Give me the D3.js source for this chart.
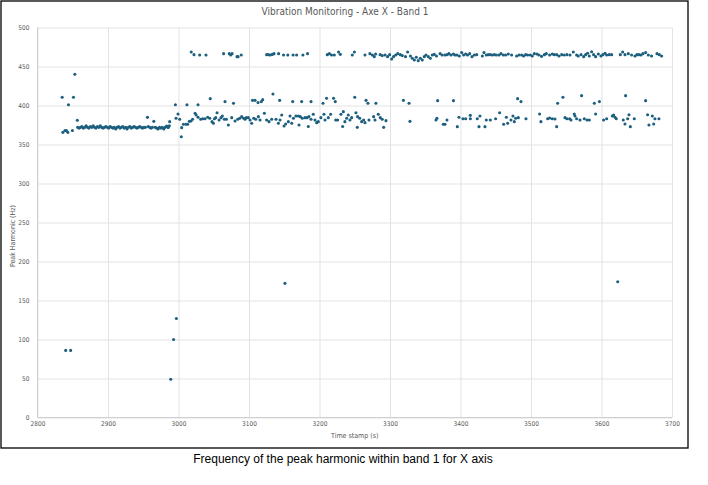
<!DOCTYPE html>
<html>
<head>
<meta charset="utf-8">
<script src="https://cdn.jsdelivr.net/npm/d3@7/dist/d3.min.js"></script>
<style>
  html, body { margin: 0; padding: 0; background: #ffffff; }
  svg { display: block; }
  svg text { -webkit-font-smoothing: antialiased; }
</style>
</head>
<body>
<svg id="chart" width="708" height="485"></svg>
<script>
// ---------- DATA (time stamp [s], peak harmonic [Hz]) ----------
const chartTitle = "Vibration Monitoring - Axe X - Band 1";
const xAxisTitle = "Time stamp (s)";
const yAxisTitle = "Peak Harmonic (Hz)";
const caption = "Frequency of the peak harmonic within band 1 for X axis";
const xTicks = [2800, 2900, 3000, 3100, 3200, 3300, 3400, 3500, 3600, 3700];
const yTicks = [0, 50, 100, 150, 200, 250, 300, 350, 400, 450, 500];

const outlierPoints = [
  [2840, 86], [2847, 86], [2989, 49], [2993, 100], [2997, 127],
  [3151, 172], [3623, 174]
];

const earlyPoints = [
  [2835, 410.5], [2844, 401], [2851, 410.5], [2853, 440], [2856.5, 381],
  [2836, 365.6], [2839, 368], [2841, 368], [2843, 365.6], [2849.5, 368],
  [2956, 384.8], [2965, 379.7], [3004, 360]
];

const flatSegment = [
  [2857, 372], [2859, 371], [2861, 372], [2863, 373], [2865, 371], [2867, 372],
  [2869, 374], [2871, 372], [2873, 371], [2875, 373], [2877, 372], [2879, 374],
  [2881, 372], [2883, 371], [2885, 373], [2887, 372], [2889, 374], [2891, 372],
  [2893, 371], [2895, 372], [2897, 373], [2899, 372], [2901, 371], [2903, 373],
  [2905, 372], [2907, 371], [2909, 372], [2911, 370], [2913, 372], [2915, 373],
  [2917, 371], [2919, 372], [2921, 373], [2923, 371], [2925, 372], [2927, 370],
  [2929, 372], [2931, 373], [2933, 371], [2935, 372], [2937, 373], [2939, 372],
  [2941, 371], [2943, 372], [2945, 373], [2947, 372], [2949, 371], [2951, 372],
  [2953, 372], [2957, 373], [2959, 372], [2961, 371], [2963, 372], [2967, 372],
  [2969, 371], [2971, 370], [2973, 372], [2975, 371], [2977, 372], [2979, 370],
  [2981, 372], [2983, 373], [2985, 372], [2987, 374]
];

const upperBand = [
  [3018, 468.6], [3022, 465.2], [3030, 464.8], [3039, 464.8], [3064, 466.5],
  [3072, 466.5], [3074, 464.8], [3076, 466.5], [3083, 462.6], [3084.5, 462.6],
  [3089, 464.8], [3125, 465.2], [3127.5, 465.2], [3130, 464.8], [3133, 465.5],
  [3135.5, 466.5], [3142, 466.5], [3149, 464.8], [3155, 464.8], [3162.5, 464.8],
  [3167.5, 464.8], [3176.5, 464.8], [3183, 466.5], [3211, 465.2], [3214, 466.5],
  [3217, 464.8], [3221, 464.8], [3227, 468.6], [3229.5, 465.6], [3246.5, 464.8],
  [3249.5, 468.6], [3264.5, 464.8], [3271.5, 466.5], [3275, 464.8], [3277.7, 462.6],
  [3279.6, 466], [3286, 465.2], [3289, 464], [3293, 464.8], [3296.6, 462.6],
  [3299.5, 465.2], [3302.3, 459.6], [3305, 462.6], [3308, 464.8], [3311, 466.5],
  [3314.6, 465.2], [3317.4, 464], [3322, 462.6], [3325, 468.6], [3329, 463.5],
  [3331.6, 460.5], [3334.5, 458.4], [3337.3, 461.8], [3340, 457.5], [3343, 460.5],
  [3345.8, 458.4], [3348.6, 462.6],
  [3351, 464.8], [3354.3, 462.6], [3357.2, 460.5], [3360, 464.8], [3362.8, 465.6],
  [3366, 463.5], [3371, 466.5], [3374, 464.8], [3378, 464.8], [3381, 465.2],
  [3383.6, 466.5], [3386.5, 464.8], [3390, 466], [3392, 464.8], [3395, 464.8],
  [3398.3, 463.5], [3401.6, 467.8], [3404.4, 464.8], [3407.3, 466], [3410, 464.8],
  [3413, 466.5], [3416.3, 462.6], [3419.6, 464.8], [3423, 465.2], [3431, 463.5],
  [3433.3, 467.8], [3436.6, 464.8], [3439.4, 465.2], [3442.3, 465.2], [3445, 464.8],
  [3448, 465.2], [3450.8, 464.8], [3454.6, 464.8], [3457.4, 466.5], [3460.7, 464.8],
  [3464, 464.8], [3467.8, 466], [3472.5, 464.8], [3479.6, 463.5], [3483, 464.8],
  [3486.7, 464.8], [3489.5, 463.5], [3492.4, 465.2], [3495.2, 464.8], [3499, 464.8],
  [3501.8, 463.5], [3504.7, 466.5], [3508.5, 466], [3511.3, 464.8], [3515, 463],
  [3519, 465.2], [3521.7, 466.5], [3526.4, 464.8], [3530.2, 466], [3533, 465.2],
  [3536.4, 465.2], [3539.7, 463.5], [3543.5, 465.2], [3547.2, 464.8], [3551, 465.2],
  [3555.3, 464.8], [3560, 468.6], [3564.7, 464.8], [3567, 463.5], [3571, 465.2],
  [3574.7, 462.6], [3577.5, 465.2], [3580.3, 466.9], [3582.7, 463.5], [3586, 469],
  [3588.8, 465.2], [3591.7, 462.6], [3595.5, 466], [3599.2, 463.5], [3602, 465.2],
  [3605, 466.9], [3607.3, 464.8], [3611, 465.2], [3614.4, 465.2], [3626.7, 465.2],
  [3630, 468.6], [3633.3, 465.2], [3638, 466.5], [3642.7, 464.8], [3647.5, 463.5],
  [3650.3, 465.2], [3653, 465.2], [3656, 464.8], [3658.8, 466.5], [3662.6, 467.8],
  [3666.4, 464.8], [3671, 463.5], [3678.7, 466.5], [3682, 465.2], [3685.3, 463.5]
];

const middleBand = [
  [2995.6, 401], [3012, 401], [3027.7, 401], [3045, 408.8], [3066, 405],
  [3078, 402.8], [3105, 406.6], [3108.6, 406.6], [3112.8, 403.7], [3117.5, 405],
  [3119.4, 407.5], [3134, 414.8], [3143.5, 406.6], [3162, 405],
  [3174.7, 405], [3188, 405], [3205, 402.8], [3210, 409.2], [3220, 409.2],
  [3222.4, 405], [3250, 410.5], [3266, 406.6], [3268.7, 402.8], [3280, 402.8],
  [3319, 406.6], [3327, 402.8],
  [3367.6, 406.2], [3390, 406.2], [3481, 408.8], [3485.8, 405],
  [3537.8, 402.8], [3545.3, 410.5], [3571.8, 412.6], [3589.8, 402.8], [3597, 405],
  [3634.2, 412.6], [3662.6, 406.2]
];

const lowerBand = [
  [2983.3, 373.7], [2985.6, 372], [2987.5, 379.3], [2996.5, 383.6], [2999.3, 389.1],
  [3001.7, 382.3], [3004.5, 371.6], [3007, 375.9], [3010.7, 375.9], [3013, 375.9],
  [3015.4, 379.7], [3017.8, 380.2], [3020, 382.3], [3023.5, 390], [3025, 387.8],
  [3027.7, 384.9], [3031.5, 382.3], [3034.3, 383.1], [3037.6, 383.1], [3041.4, 384.9],
  [3044.3, 383.6], [3047.6, 379.3], [3049.5, 377.2], [3051, 383.1], [3052.8, 384.4],
  [3054.7, 390.8], [3057.5, 381.4], [3060.3, 384.4], [3062.2, 386.6], [3065, 382.3],
  [3068, 382.3], [3070.7, 375], [3075.5, 384.4], [3080.2, 380.2], [3084, 382.3],
  [3086.8, 383.6], [3089.6, 385.7], [3092.5, 383.6], [3094.4, 382.3], [3096.3, 384.4],
  [3099, 384.4], [3101.5, 381.4], [3103.8, 377.2], [3106.7, 383.6], [3109.5, 382.3],
  [3113.3, 385.7], [3115.6, 381.4], [3121.8, 390], [3125, 381.4], [3128.4, 379.3],
  [3132.2, 382.3], [3138.3, 382.3], [3141.7, 377.2], [3144, 381.4], [3146.4, 387.8],
  [3149.7, 373.7], [3152, 376.3], [3155.8, 379.3], [3158.2, 386.6], [3160.6, 377.2],
  [3163, 383.6],
  [3166.6, 386.6], [3170, 386.6], [3170.9, 375], [3172.8, 385.7], [3175.6, 383.6],
  [3179.4, 384.4], [3182.2, 384.4], [3184.1, 373], [3185, 385.7], [3188, 382.3],
  [3191.2, 388.7], [3193.6, 381.4], [3196, 378], [3198.3, 379.3], [3202, 384.4],
  [3206.3, 388.7], [3207.8, 381.4], [3212.5, 384.4], [3215.8, 388.7], [3223, 381.4],
  [3225.7, 381.4], [3230.4, 388.7], [3232.8, 373], [3233.8, 392.1], [3236, 379.3],
  [3238.5, 383.6], [3240.8, 387.8], [3243.2, 381.4], [3245.6, 384.4], [3251.7, 390.8],
  [3253.6, 372], [3254, 385.7], [3257, 383.6], [3259.8, 379.3], [3262.6, 381.4],
  [3264.5, 378], [3270.2, 381.4], [3276.8, 385.7], [3278.7, 381.4], [3283.4, 388.7],
  [3286.2, 384.4], [3289, 382.3], [3291, 372], [3294.3, 380.6], [3328.3, 379.7],
  [3365.2, 381.4], [3366.6, 383.6], [3375.6, 375.9], [3378, 375.9], [3380.8, 381.4],
  [3395.5, 372.9], [3397.8, 384.9], [3403.5, 383.1], [3407.3, 383.1], [3413.9, 387.4],
  [3414, 383.1], [3423.8, 383.1], [3426.2, 372.9], [3427.6, 386.6], [3434.7, 372.9],
  [3436.6, 381.4], [3442.3, 381.4], [3449.8, 383.1], [3455.5, 390.8], [3461.2, 375.9],
  [3465, 384.9], [3466.9, 377.2], [3471.6, 381.4], [3474.4, 386.6], [3476.3, 379.3],
  [3478.2, 383.6], [3482, 384.4], [3492.9, 383.1], [3512.2, 389.1], [3514.1, 379.3],
  [3523.6, 383.1], [3526.4, 384], [3530.2, 383.1],
  [3534, 382.7], [3536.4, 372.9], [3548.2, 384.4], [3551, 383.1], [3554.8, 383.1],
  [3556.7, 381.4], [3561.4, 389.1], [3562.4, 386.6], [3564.7, 383.1], [3569.5, 381.4],
  [3575.6, 383.1], [3579.4, 381.4], [3582.7, 381.4], [3591.7, 389.1], [3603, 381.4],
  [3607.3, 383.1], [3615.3, 386.6], [3617.2, 387.8], [3619.1, 384.9], [3621, 383.1],
  [3630.9, 381.4], [3633.3, 376.3], [3637.1, 383.1], [3639, 388.2], [3640.9, 372.9],
  [3646.5, 383.1], [3665.4, 388.2], [3667.3, 375], [3672.1, 386.6], [3674, 376.3],
  [3675.8, 383.1], [3681.5, 383.1]
];

// ---------- LAYOUT ----------
const svg = d3.select("#chart");
const plot = { left: 37.5, right: 672, top: 27.5, bottom: 417.5 };
const x = d3.scaleLinear().domain([2800, 3700]).range([plot.left, plot.right]);
const y = d3.scaleLinear().domain([0, 500]).range([plot.bottom, plot.top]);
const axisFont = "'Liberation Sans Narrow', 'DejaVu Sans Condensed', sans-serif";
const textGray = "#595959";
const gridColor = "#e3e3e3";
const markColor = "#1d5f7e";

// outer chart border
svg.append("rect")
  .attr("x", 1).attr("y", 1).attr("width", 687).attr("height", 447)
  .attr("fill", "#fff").attr("stroke", "#000").attr("stroke-width", 1.3);

// gridlines
svg.append("g").attr("class", "ygrid")
  .attr("transform", `translate(${plot.left},0)`)
  .call(d3.axisLeft(y).tickValues(yTicks).tickSize(-(plot.right - plot.left)).tickFormat(""))
  .call(g => g.select(".domain").remove())
  .call(g => g.selectAll("line").attr("stroke", gridColor).attr("stroke-width", 1));

svg.append("g").attr("class", "xgrid")
  .attr("transform", `translate(0,${plot.bottom})`)
  .call(d3.axisBottom(x).tickValues(xTicks).tickSize(-(plot.bottom - plot.top)).tickFormat(""))
  .call(g => g.select(".domain").remove())
  .call(g => g.selectAll("line").attr("stroke", gridColor).attr("stroke-width", 1));

// axis lines
svg.append("line").attr("x1", plot.left).attr("x2", plot.left)
  .attr("y1", plot.top).attr("y2", plot.bottom).attr("stroke", "#d0d0d0");
svg.append("line").attr("x1", plot.left).attr("x2", plot.right)
  .attr("y1", plot.bottom).attr("y2", plot.bottom).attr("stroke", "#d0d0d0");

// tick labels
const yAxis = svg.append("g")
  .attr("transform", `translate(${plot.left},0)`)
  .call(d3.axisLeft(y).tickValues(yTicks).tickSize(0).tickPadding(8).tickFormat(d3.format("d")));
yAxis.select(".domain").remove();
yAxis.selectAll("text").style("fill", textGray).style("font-family", axisFont).style("font-size", "6.5px");

const xAxis = svg.append("g")
  .attr("transform", `translate(0,${plot.bottom})`)
  .call(d3.axisBottom(x).tickValues(xTicks).tickSize(0).tickPadding(4).tickFormat(d3.format("d")));
xAxis.select(".domain").remove();
xAxis.selectAll("text").style("fill", textGray).style("font-family", axisFont).style("font-size", "6.5px");

// titles
svg.append("text").attr("x", 345).attr("y", 15).attr("text-anchor", "middle")
  .style("fill", textGray).style("font-family", axisFont).style("font-size", "10px")
  .text(chartTitle);
svg.append("text").attr("x", (plot.left + plot.right) / 2).attr("y", 438).attr("text-anchor", "middle")
  .style("fill", textGray).style("font-family", axisFont).style("font-size", "7px")
  .text(xAxisTitle);
svg.append("text").attr("transform", "translate(15,236) rotate(-90)").attr("text-anchor", "middle")
  .style("fill", textGray).style("font-family", axisFont).style("font-size", "7px")
  .text(yAxisTitle);

// caption
svg.append("text").attr("x", 343).attr("y", 463).attr("text-anchor", "middle")
  .style("fill", "#000").style("font-family", "'Liberation Sans', Arial, sans-serif").style("font-size", "12px")
  .text(caption);

// points
const allPoints = [].concat(outlierPoints, earlyPoints, flatSegment, upperBand, middleBand, lowerBand);
svg.append("g").selectAll("circle").data(allPoints).join("circle")
  .attr("cx", d => x(d[0])).attr("cy", d => y(d[1])).attr("r", 1.55)
  .attr("fill", markColor);
</script>
</body>
</html>
